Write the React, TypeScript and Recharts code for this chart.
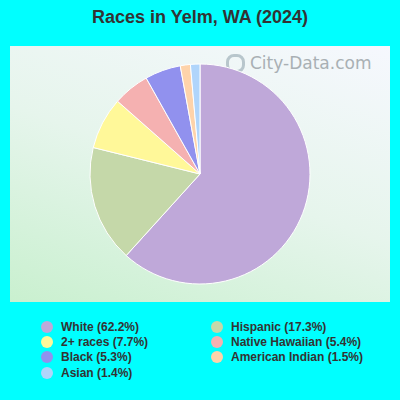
import { PieChart, Pie, Cell } from 'recharts'

const races = ['White', 'Hispanic', '2+ races', 'Native Hawaiian', 'Black', 'American Indian', 'Asian']
const shares = [62.2, 17.3, 7.7, 5.4, 5.3, 1.5, 1.4]
const colors = ['#bfa8d9', '#c5d8a9', '#fff899', '#f5b1b1', '#9191ee', '#fed3aa', '#b0d5fb']

// legend reads row by row across two columns
const legendOrder = ['White', 'Hispanic', '2+ races', 'Native Hawaiian', 'Black', 'American Indian', 'Asian']

const data = races.map((name, i) => ({ name, value: shares[i], color: colors[i] }))

const FONT = 'Arial, "Liberation Sans", sans-serif'

function ChartLegend() {
  const left = legendOrder.filter((_, i) => i % 2 === 0)
  const right = legendOrder.filter((_, i) => i % 2 === 1)
  const item = (name: string) => {
    const d = data.find((x) => x.name === name)!
    return (
      <div key={name} style={{ display: 'flex', alignItems: 'center', height: 15.4 }}>
        <span
          style={{
            display: 'inline-block',
            width: 12,
            height: 12,
            borderRadius: 6,
            background: d.color,
            marginRight: 8,
          }}
        />
        <span>{`${d.name} (${d.value}%)`}</span>
      </div>
    )
  }
  return (
    <div
      style={{
        position: 'absolute',
        top: 319,
        left: 0,
        width: 400,
        display: 'flex',
        fontFamily: FONT,
        fontSize: 12,
        fontWeight: 'bold',
        color: '#333',
      }}
    >
      <div style={{ width: 170, paddingLeft: 41 }}>{left.map(item)}</div>
      <div>{right.map(item)}</div>
    </div>
  )
}

export default function App() {
  return (
    <div style={{ position: 'absolute', left: 0, top: 0, width: 400, height: 400, background: '#00ffff' }}>
      <div
        style={{
          position: 'absolute',
          top: 7,
          width: 400,
          textAlign: 'center',
          fontFamily: FONT,
          fontWeight: 'bold',
          fontSize: 18,
          color: '#333',
        }}
      >
        Races in Yelm, WA (2024)
      </div>
      <div
        style={{
          position: 'absolute',
          left: 10,
          top: 46,
          width: 380,
          height: 256,
          background: 'linear-gradient(20deg, #c9f0cf 0%, #e6f5ec 50%, #f6f8fe 100%)',
        }}
      />
      <div
        style={{
          position: 'absolute',
          left: 226,
          top: 53,
          fontFamily: '"DejaVu Sans", Verdana, sans-serif',
          fontSize: 17,
          color: '#a9b0b4',
          display: 'flex',
          alignItems: 'center',
        }}
      >
        <span
          style={{
            display: 'inline-block',
            width: 13,
            height: 13,
            borderRadius: 8,
            border: '3px solid #b8c6cc',
            marginRight: 5,
          }}
        />
        City-Data.com
      </div>
      <div style={{ position: 'absolute', left: 0, top: 0 }}>
        <PieChart width={400} height={400} margin={{ top: 0, right: 0, bottom: 0, left: 0 }}>
          <Pie
            data={data}
            dataKey="value"
            nameKey="name"
            cx={200}
            cy={174}
            outerRadius={110}
            startAngle={90}
            endAngle={-270}
            stroke="#ffffff"
            strokeWidth={1}
            isAnimationActive={false}
          >
            {data.map((d) => (
              <Cell key={d.name} fill={d.color} />
            ))}
          </Pie>
        </PieChart>
      </div>
      <ChartLegend />
    </div>
  )
}
